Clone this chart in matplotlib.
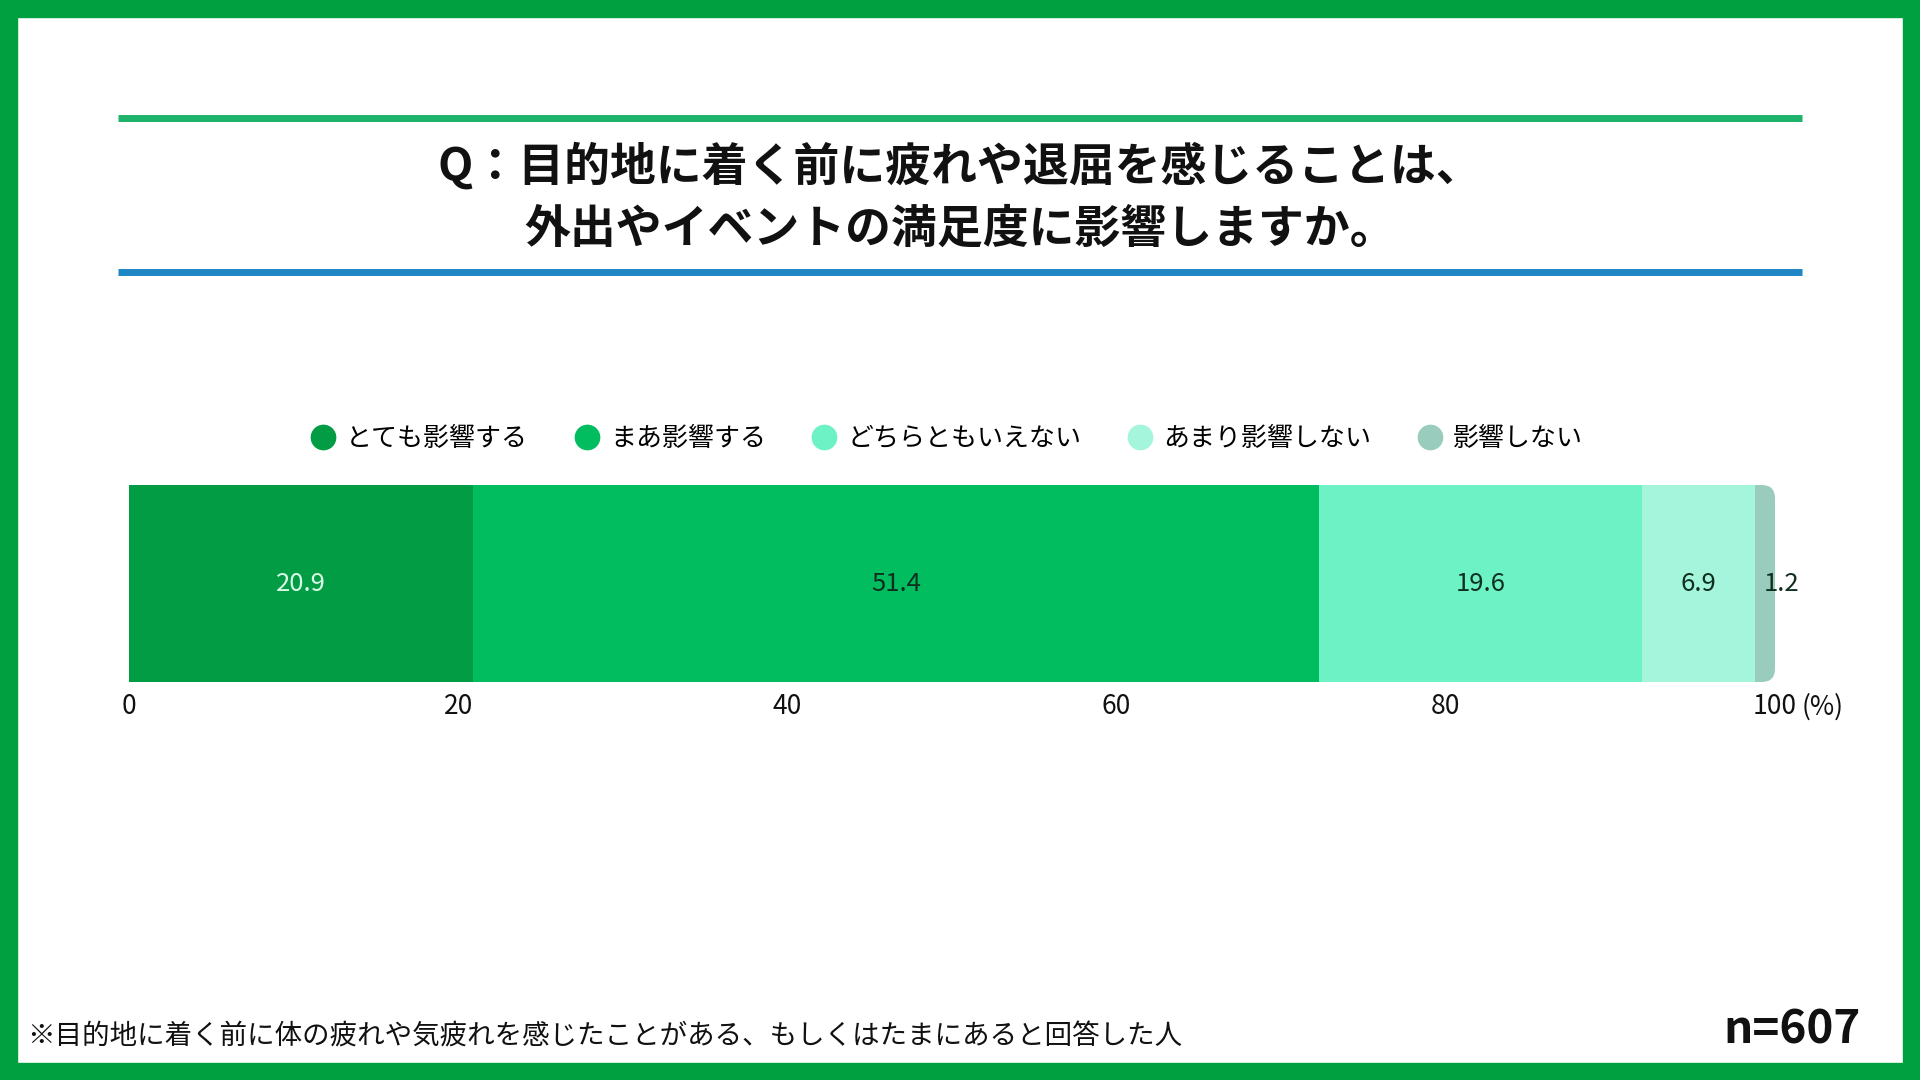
import matplotlib
matplotlib.use('Agg')
import matplotlib.pyplot as plt
from matplotlib.lines import Line2D
from matplotlib.patches import Rectangle, FancyBboxPatch

plt.rcParams['font.family'] = ['Noto Sans CJK JP', 'DejaVu Sans']

# data
categories = ['とても影響する', 'まあ影響する', 'どちらともいえない', 'あまり影響しない', '影響しない']
values = [20.9, 51.4, 19.6, 6.9, 1.2]
colors = ['#019c43', '#02bd60', '#6df2c6', '#a4f5dc', '#99ccbd']
label_colors = ['#d9fbe6', '#10301f', '#10301f', '#10301f', '#10301f']
ticks = [0, 20, 40, 60, 80, 100]
tick_labels = ['0', '20', '40', '60', '80', '100']
title = 'Q：目的地に着く前に疲れや退屈を感じることは、\n外出やイベントの満足度に影響しますか。'
note = '※目的地に着く前に体の疲れや気疲れを感じたことがある、もしくはたまにあると回答した人'
n_text = 'n=607'

W, H = 1920, 1080
fig = plt.figure(figsize=(W / 100, H / 100), dpi=100)
fig.patch.set_facecolor('white')

# green frame
bw = 17
for (x0, y0, w, h) in [(0, 0, W, bw), (0, H - bw, W, bw), (0, 0, bw, H), (W - bw, 0, bw, H)]:
    fig.patches.append(Rectangle((x0 / W, 1 - (y0 + h) / H), w / W, h / H,
                                 transform=fig.transFigure, color='#00a040', zorder=0))

# header lines
fig.add_artist(Line2D([118 / W, 1802 / W], [1 - 118 / H] * 2, color='#1db36a', lw=5,
                      solid_capstyle='butt'))
fig.add_artist(Line2D([118 / W, 1802 / W], [1 - 272 / H] * 2, color='#1f86c6', lw=5,
                      solid_capstyle='butt'))

fig.text(0.5, 1 - 198 / H, title, ha='center', va='center', fontsize=33,
         fontweight='bold', linespacing=1.45, color='#111111')

# bar axes
ax = fig.add_axes([129 / W, 1 - 682 / H, (1775 - 129) / W, (682 - 485) / H])
ax.set_xlim(0, 100)
ax.set_ylim(-0.5, 0.5)

clip = FancyBboxPatch((-10, -0.5), 110, 1, boxstyle='round,pad=0,rounding_size=0.8',
                      mutation_aspect=0.085, transform=ax.transData, facecolor='none',
                      edgecolor='none')
ax.add_patch(clip)

left = 0
for cat, v, c, lc in zip(categories, values, colors, label_colors):
    bars = ax.barh(0, v, left=left, height=1, color=c, label=cat, linewidth=0)
    for b in bars:
        b.set_clip_path(clip)
    shift = 12 if v < 3 else 0
    ax.annotate(f'{v}', xy=(left + v / 2, 0), xytext=(shift, 0), textcoords='offset points',
                ha='center', va='center', fontsize=18.5, color=lc)
    left += v

for s in ax.spines.values():
    s.set_visible(False)
ax.set_yticks([])
ax.set_xticks(ticks)
ax.set_xticklabels(tick_labels, fontsize=19, color='#111111')
ax.tick_params(axis='x', length=0, pad=8)
ax.annotate('(%)', xy=(100, 0), xycoords=('data', 'axes fraction'), xytext=(19, -8),
            textcoords='offset points', ha='left', va='top', fontsize=19, color='#111111')

handles = [Line2D([], [], marker='o', linestyle='', markersize=17.5, color=c) for c in colors]
fig.legend(handles, categories, loc='center', bbox_to_anchor=(0.493, 1 - 439 / H), ncol=5,
           frameon=False, fontsize=18.7, handletextpad=0.4, columnspacing=1.75,
           handlelength=1.0)

fig.text(27 / W, 1 - 1037 / H, note, ha='left', va='center', fontsize=19.8, color='#111111')
fig.text(1861 / W, 1 - 1030 / H, n_text, ha='right', va='center', fontsize=33,
         fontweight='bold', color='#111111')

fig.savefig('out.png', dpi=100)
